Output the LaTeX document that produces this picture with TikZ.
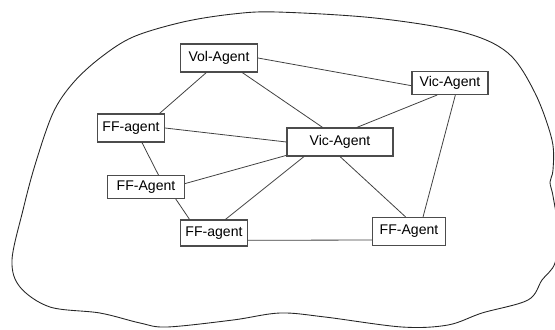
\documentclass[tikz,border=0pt]{standalone}
\usepackage{fontspec}
\setmainfont{Liberation Sans}
\begin{document}
\begin{tikzpicture}[x=0.02cm,y=-0.02cm,
 agent/.style 2 args={draw=black!70,line width=0.6pt,inner sep=0pt,
 minimum width=#1*0.02cm,minimum height=#2*0.02cm,font=\fontsize{8}{9.6}\selectfont},
 link/.style={draw=black!75,line width=0.45pt}]
 \useasboundingbox (0,0) rectangle (555,329);
 % the area
 \clip (0,0) rectangle (555,329);
 \draw[black!85,line width=0.5pt] plot[smooth cycle,tension=0.55] coordinates {
 (100,58)(133,37)(183,22)(233,14)(277,12)(375,18)(462,32)(508,53)(535,93)
 (552,140)(553,170)(550,182)(553,196)(558,230)(555,263)(542,280)(528,300)
 (482,313)(448,325)(402,327)(325,317)(280,313)(233,320)(167,327)(140,323)
 (100,313)(50,307)(20,287)(12,260)(23,210)(35,165)(53,113)(73,83)};
 % agents
 \path
 (219,58) node[agent={77}{28}] (vol) {Vol-Agent}
 (450,83) node[agent={76}{23}] (vicR) {Vic-Agent}
 (131,128) node[agent={67}{28}] (ffa) {FF-agent}
 (340,142) node[agent={106}{28}] (vicC) {Vic-Agent}
 (146,187) node[agent={77}{23}] (ffB) {FF-Agent}
 (214,233) node[agent={67}{26}] (ffc) {FF-agent}
 (409,231.5) node[agent={73}{28}] (ffD) {FF-Agent}
 ;
 \foreach \a/\b in {vol.-131/ffa.27,vol.-32/vicC.140,vol.east/vicR.-176,
 vicR.-137/vicC.41,vicR.-66/ffD.46,ffa.east/vicC.west,ffa.-53/ffB.44,
 ffB.5/vicC.-166,ffB.-22/ffc.151,ffc.50/vicC.-158,vicC.south/ffD.103,
 ffc.-12/ffD.-167}
 \draw[link] (\a)--(\b);
\end{tikzpicture}
\end{document}
